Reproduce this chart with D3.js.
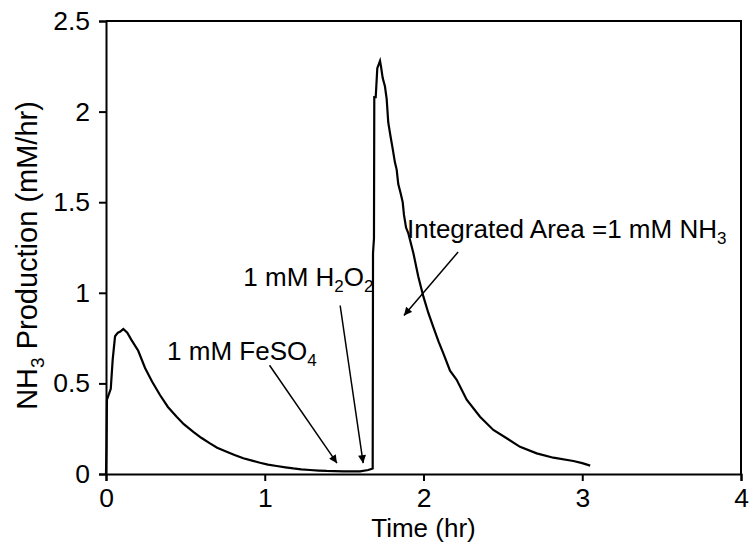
<!DOCTYPE html>
<html>
<head>
<meta charset="utf-8">
<script src="https://cdn.jsdelivr.net/npm/d3@7"></script>
<style>
  body { margin: 0; background: #fff; }
  text { font-family: "Liberation Sans", Arial, sans-serif; fill: #000; }
</style>
</head>
<body>
<div id="chart"></div>
<script>
// time (hr) and NH3 production (mM/hr)
var times = [
  0.000, 0.003, 0.006, 0.030, 0.042, 0.057, 0.075, 0.088, 0.109, 0.134,
  0.160, 0.203, 0.246, 0.290, 0.340, 0.390, 0.445, 0.490, 0.550, 0.600,
  0.655, 0.700, 0.760, 0.810, 0.865, 0.920, 0.970, 1.020, 1.075, 1.130,
  1.180, 1.230, 1.285, 1.340, 1.390, 1.440, 1.495, 1.550, 1.600, 1.652,
  1.680, 1.682, 1.688, 1.690, 1.699, 1.709, 1.726, 1.732, 1.743, 1.757,
  1.768, 1.778, 1.793, 1.805, 1.820, 1.831, 1.841, 1.856, 1.869, 1.877,
  1.890, 1.904, 1.936, 1.967, 1.999, 2.030, 2.062, 2.095, 2.125, 2.167,
  2.209, 2.272, 2.356, 2.440, 2.524, 2.608, 2.713, 2.818, 2.944, 3.000,
  3.050
];
var nh3 = [
  0.000, 0.150, 0.410, 0.470, 0.630, 0.760, 0.780, 0.785, 0.800, 0.780,
  0.740, 0.680, 0.585, 0.510, 0.436, 0.370, 0.316, 0.275, 0.233, 0.200,
  0.169, 0.145, 0.123, 0.105, 0.087, 0.074, 0.062, 0.052, 0.044, 0.037,
  0.031, 0.026, 0.022, 0.019, 0.017, 0.016, 0.015, 0.015, 0.015, 0.022,
  0.030, 1.220, 1.300, 2.080, 2.080, 2.240, 2.280, 2.250, 2.185, 2.140,
  2.070, 1.940, 1.860, 1.800, 1.720, 1.680, 1.600, 1.550, 1.500, 1.430,
  1.360, 1.330, 1.220, 1.090, 0.980, 0.890, 0.810, 0.730, 0.666, 0.570,
  0.520, 0.410, 0.316, 0.243, 0.197, 0.150, 0.114, 0.090, 0.072, 0.060,
  0.046
];
var xTicks = [0, 1, 2, 3, 4];
var yTicks = [0, 0.5, 1, 1.5, 2, 2.5];

// annotations: label pieces [text, subscript?], label anchor and arrow in data units
var notes = [
  { parts: [["1 mM FeSO", false], ["4", true]], tx: 0.385, ty: 0.63, from: [1.03, 0.6], to: [1.455, 0.06] },
  { parts: [["1 mM H", false], ["2", true], ["O", false], ["2", true]], tx: 0.865, ty: 1.037, from: [1.475, 0.93], to: [1.62, 0.06] },
  { parts: [["Integrated Area =1 mM NH", false], ["3", true]], tx: 1.896, ty: 1.3, from: [2.218, 1.225], to: [1.877, 0.875] }
];

var margin = { top: 21, right: 12, bottom: 76, left: 106 };
var width = 753 - margin.left - margin.right;
var height = 550 - margin.top - margin.bottom;

var svg = d3.select("#chart").append("svg")
  .attr("width", 753)
  .attr("height", 550);

svg.append("defs").append("marker")
  .attr("id", "head")
  .attr("viewBox", "0 0 10 10")
  .attr("refX", 10)
  .attr("refY", 5)
  .attr("markerWidth", 9)
  .attr("markerHeight", 8)
  .attr("markerUnits", "userSpaceOnUse")
  .attr("orient", "auto")
  .append("path")
  .attr("d", "M0,0L10,5L0,10z")
  .attr("fill", "#000");

var g = svg.append("g")
  .attr("transform", "translate(" + margin.left + "," + margin.top + ")");

var x = d3.scaleLinear().domain([0, 4]).range([0, width]);
var y = d3.scaleLinear().domain([0, 2.5]).range([height, 0]);

// frame on top and right
g.append("path")
  .attr("d", "M0,0H" + width + "V" + height)
  .attr("fill", "none")
  .attr("stroke", "#000")
  .attr("stroke-width", 2);

var xAxis = g.append("g")
  .attr("transform", "translate(0," + height + ")")
  .call(d3.axisBottom(x).tickValues(xTicks).tickSize(7).tickPadding(7).tickFormat(d3.format("d")));

var yAxis = g.append("g")
  .call(d3.axisLeft(y).tickValues(yTicks).tickSize(7).tickPadding(9).tickFormat(d => d));

[xAxis, yAxis].forEach(function(a) {
  a.select(".domain").attr("stroke-width", 2);
  a.selectAll(".tick line").attr("stroke-width", 2);
  a.selectAll(".tick text").style("font-size", "26.5px").style("font-family", "Liberation Sans, Arial, sans-serif");
});

var line = d3.line()
  .x((d, i) => x(times[i]))
  .y(d => y(d));

g.append("path")
  .datum(nh3)
  .attr("d", line)
  .attr("fill", "none")
  .attr("stroke", "#000")
  .attr("stroke-width", 2.2)
  .attr("stroke-linejoin", "miter");

// annotation labels and arrows
notes.forEach(function(n) {
  var t = g.append("text")
    .attr("x", x(n.tx))
    .attr("y", y(n.ty))
    .style("font-size", "26px");
  n.parts.forEach(function(p) {
    t.append("tspan")
      .attr("font-size", p[1] ? "17px" : "26px")
      .attr("dy", p[1] ? 6 : (t.selectAll("tspan").size() > 1 ? -6 : 0))
      .text(p[0]);
  });
  g.append("line")
    .attr("x1", x(n.from[0]))
    .attr("y1", y(n.from[1]))
    .attr("x2", x(n.to[0]))
    .attr("y2", y(n.to[1]))
    .attr("stroke", "#000")
    .attr("stroke-width", 1.5)
    .attr("marker-end", "url(#head)");
});

g.append("text")
  .attr("x", width / 2)
  .attr("y", height + 63)
  .attr("text-anchor", "middle")
  .style("font-size", "26px")
  .text("Time (hr)");

var yt = g.append("text")
  .attr("transform", "translate(-69," + (height / 2 + 8) + ") rotate(-90)")
  .attr("text-anchor", "middle")
  .style("font-size", "29px");
yt.append("tspan").text("NH");
yt.append("tspan").attr("font-size", "19px").attr("dy", 7).text("3");
yt.append("tspan").attr("dy", -7).text(" Production (mM/hr)");
</script>
</body>
</html>
